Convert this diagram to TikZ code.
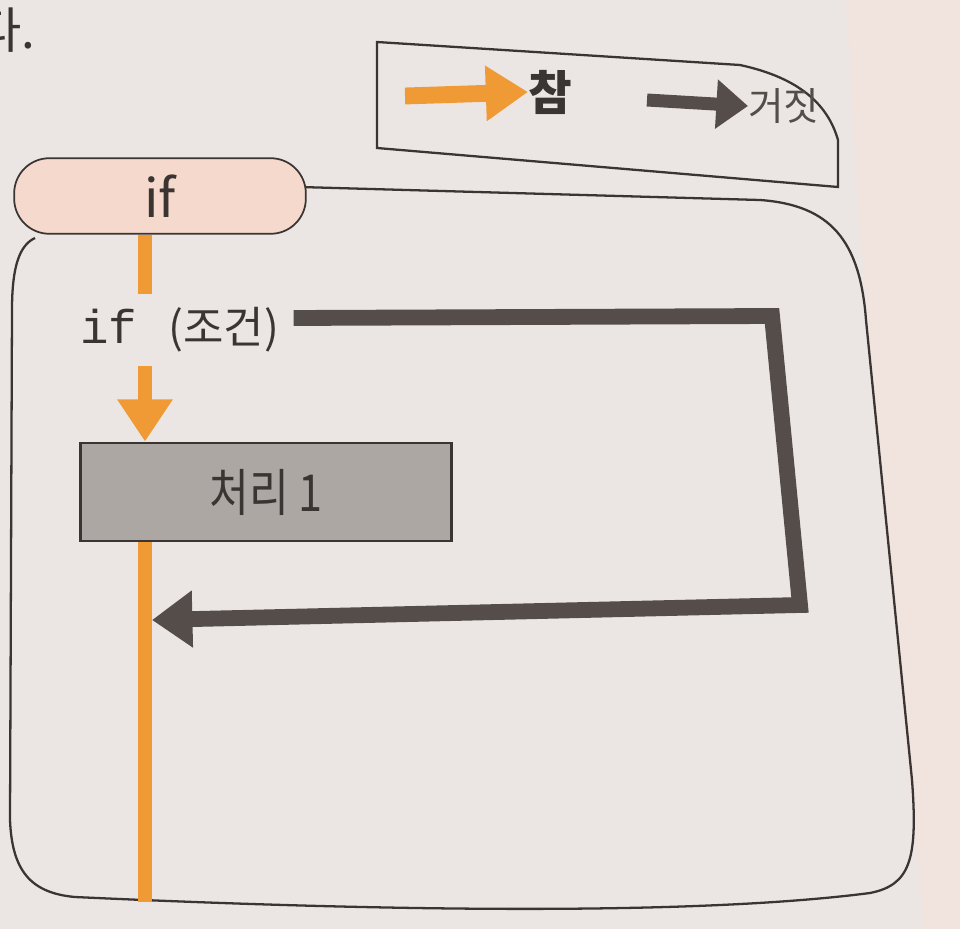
\documentclass[tikz,border=0pt]{standalone}
\usepackage{fontspec}
\newfontfamily\kr{Noto Sans CJK KR}
\newfontfamily\krn[FakeStretch=0.85]{Noto Sans CJK KR}
\newfontfamily\mono{Liberation Mono}
\usetikzlibrary{arrows.meta}
\definecolor{pagebg}{HTML}{EBE6E4}
\definecolor{pagebgr}{HTML}{F1E3DD}
\definecolor{truec}{HTML}{F09A35}
\definecolor{falsec}{HTML}{544D49}
\definecolor{inkc}{HTML}{3A3532}
\definecolor{pillc}{HTML}{F5D9CC}
\definecolor{procc}{HTML}{ADA7A4}
\tikzset{
  frameline/.style={draw=inkc, line width=1.3pt},
  pill/.style={draw=inkc, line width=1pt, fill=pillc, rounded corners=20pt,
    minimum width=166pt, minimum height=43pt, inner sep=0pt,
    font=\kr\fontsize{30}{32}\selectfont, text=inkc},
  procbox/.style={draw=inkc, line width=1.4pt, fill=procc,
    minimum width=211pt, minimum height=56pt, inner sep=0pt,
    font=\krn\fontsize{29}{31}\selectfont, text=inkc},
  condtext/.style={inner xsep=8pt, inner ysep=0pt, minimum height=41pt, text=inkc},
  trueline/.style={draw=truec, line width=8.5pt},
  truearrow/.style={trueline, -{Triangle[length=24pt,width=30pt]}},
  falsearrow/.style={draw=falsec, line width=9pt, line join=miter,
    -{Triangle[length=23pt,width=31pt]}},
  legtrue/.style={draw=truec, line width=9.6pt, -{Triangle[length=24pt,width=30pt]}},
  legfalse/.style={draw=falsec, line width=7.4pt, -{Triangle[length=18pt,width=27pt]}},
  labeltext/.style={inner sep=0pt, anchor=west},
}
\begin{document}
\begin{tikzpicture}[x=0.02cm,y=-0.02cm]
\useasboundingbox (0,0) rectangle (960,929);
\fill[pagebg] (0,0) rectangle (960,929);
\fill[pagebgr] (846,0) -- (960,0) -- (960,929) -- (924,929) -- (882,500) -- (856,180) -- cycle;

% page text fragment
\node[labeltext, font=\kr\fontsize{28}{30}\selectfont, text=inkc] (frag) at (-24,30) {다.};

% legend
\draw[frameline] (377,42) -- (740,65) .. controls (800,78) and (828,105) .. (838,140) -- (838,187) -- (377,148) -- cycle;
\node[labeltext, font=\kr\bfseries\fontsize{27}{29}\selectfont, text=inkc] (cham) at (528,92) {참};
\coordinate (lt0) at (405,96);
\draw[legtrue] (lt0) -- (cham.west);
\node[labeltext, font=\kr\fontsize{22}{24}\selectfont, text=falsec] (geojit) at (748,106) {거짓};
\coordinate (lf0) at (647,100);
\draw[legfalse] (lf0) -- (geojit.west);

% outer frame
\draw[frameline] (300,187) -- (760,200) .. controls (830,205) and (860,240) .. (866,320)
  -- (912,780) .. controls (918,860) and (910,885) .. (870,893)
  .. controls (700,915) and (400,912) .. (75,897)
  .. controls (30,893) and (12,870) .. (10,820) -- (12,310)
  .. controls (12,265) and (20,245) .. (35,238);

% nodes
\node[pill] (ifn) at (160,196) {if};
\node[condtext, anchor=west] (cond) at (66,330) {{\mono\fontsize{27}{29}\selectfont if\ }\,{\kr\fontsize{25}{27}\selectfont (조건)}};
\node[procbox] (proc) at (266,492) {처리 1};
\coordinate (lx) at (145,0);
\coordinate (fy) at (0,318);
\coordinate (bend) at (145,902);
\coordinate (fc1) at (772,316);
\coordinate (fc2) at (800,605);
\coordinate (join) at (152,620);

% true path
\draw[trueline] (ifn.south -| lx) -- (cond.north -| lx);
\draw[truearrow] (cond.south -| lx) -- (proc.north -| lx);
\draw[trueline] (proc.south -| lx) -- (bend);

% false path
\draw[falsearrow] (cond.east |- fy) -- (fc1) -- (fc2) -- (join);
\end{tikzpicture}
\end{document}
